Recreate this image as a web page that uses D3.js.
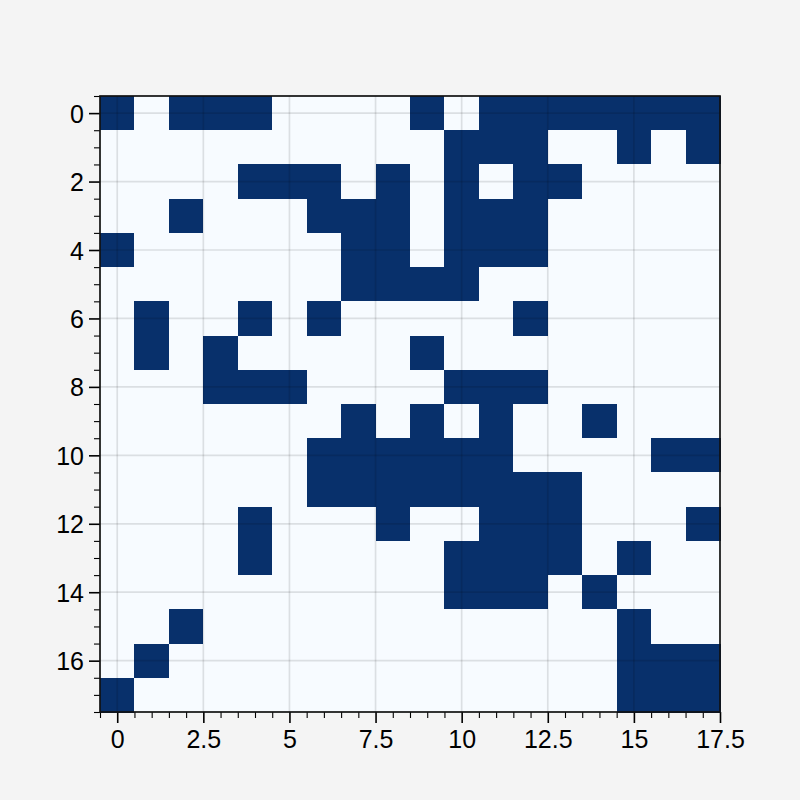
<!DOCTYPE html>
<html>
<head>
<meta charset="utf-8">
<script src="https://cdn.jsdelivr.net/npm/d3@7"></script>
<style>
  html, body { margin: 0; padding: 0; background: #f4f4f4; }
  svg { display: block; }
  text { font-family: "Liberation Sans", Arial, sans-serif; }
</style>
</head>
<body>
<svg id="chart" width="800" height="800"></svg>
<script>
// Boolean matrix, rows top to bottom (row index 0..17), columns left to right
const row00 = [1,0,1,1,1,0,0,0,0,1,0,1,1,1,1,1,1,1];
const row01 = [0,0,0,0,0,0,0,0,0,0,1,1,1,0,0,1,0,1];
const row02 = [0,0,0,0,1,1,1,0,1,0,1,0,1,1,0,0,0,0];
const row03 = [0,0,1,0,0,0,1,1,1,0,1,1,1,0,0,0,0,0];
const row04 = [1,0,0,0,0,0,0,1,1,0,1,1,1,0,0,0,0,0];
const row05 = [0,0,0,0,0,0,0,1,1,1,1,0,0,0,0,0,0,0];
const row06 = [0,1,0,0,1,0,1,0,0,0,0,0,1,0,0,0,0,0];
const row07 = [0,1,0,1,0,0,0,0,0,1,0,0,0,0,0,0,0,0];
const row08 = [0,0,0,1,1,1,0,0,0,0,1,1,1,0,0,0,0,0];
const row09 = [0,0,0,0,0,0,0,1,0,1,0,1,0,0,1,0,0,0];
const row10 = [0,0,0,0,0,0,1,1,1,1,1,1,0,0,0,0,1,1];
const row11 = [0,0,0,0,0,0,1,1,1,1,1,1,1,1,0,0,0,0];
const row12 = [0,0,0,0,1,0,0,0,1,0,0,1,1,1,0,0,0,1];
const row13 = [0,0,0,0,1,0,0,0,0,0,1,1,1,1,0,1,0,0];
const row14 = [0,0,0,0,0,0,0,0,0,0,1,1,1,0,1,0,0,0];
const row15 = [0,0,1,0,0,0,0,0,0,0,0,0,0,0,0,1,0,0];
const row16 = [0,1,0,0,0,0,0,0,0,0,0,0,0,0,0,1,1,1];
const row17 = [1,0,0,0,0,0,0,0,0,0,0,0,0,0,0,1,1,1];
const matrix = [row00,row01,row02,row03,row04,row05,row06,row07,row08,
                row09,row10,row11,row12,row13,row14,row15,row16,row17];

const xTickValues = [0, 2.5, 5, 7.5, 10, 12.5, 15, 17.5];
const xTickLabels = ["0", "2.5", "5", "7.5", "10", "12.5", "15", "17.5"];
const yTickValues = [0, 2, 4, 6, 8, 10, 12, 14, 16];
const yTickLabels = ["0", "2", "4", "6", "8", "10", "12", "14", "16"];

const colorLow = "#f7fbff";
const colorHigh = "#08306b";

(function () {
const pLeft = 100, pRight = 720, pTop = 96, pBottom = 712;
const nR = matrix.length, nC = matrix[0].length;

const svg = d3.select("#chart");
const x = d3.scaleLinear().domain([-0.5, nC - 0.5]).range([pLeft, pRight]);
const y = d3.scaleLinear().domain([-0.5, nR - 0.5]).range([pTop, pBottom]);
const color = d3.scaleOrdinal().domain([0, 1]).range([colorLow, colorHigh]);

// cells
const cells = [];
matrix.forEach((row, i) => row.forEach((v, j) => cells.push({i, j, v})));
svg.append("g").attr("shape-rendering", "crispEdges")
  .selectAll("rect").data(cells).join("rect")
  .attr("x", d => x(d.j - 0.5))
  .attr("y", d => y(d.i - 0.5))
  .attr("width", d => x(d.j + 0.5) - x(d.j - 0.5) + 0.5)
  .attr("height", d => y(d.i + 0.5) - y(d.i - 0.5) + 0.5)
  .attr("fill", d => color(d.v));

// gridlines
const grid = svg.append("g").attr("stroke", "rgba(0,0,0,0.11)").attr("stroke-width", 1.7);
xTickValues.filter(v => v < nC - 0.5).forEach(v => {
  grid.append("line").attr("x1", x(v)).attr("x2", x(v)).attr("y1", pTop).attr("y2", pBottom);
});
yTickValues.forEach(v => {
  grid.append("line").attr("x1", pLeft).attr("x2", pRight).attr("y1", y(v)).attr("y2", y(v));
});

// minor ticks
const xMinor = d3.range(-0.5, nC - 0.5 + 0.01, 0.5).filter(v => !xTickValues.includes(v));
const yMinor = d3.range(-0.5, nR - 0.5 + 0.01, 0.5).filter(v => !yTickValues.includes(v));

const fs = 25;
const xMinorAxis = d3.axisBottom(x).tickValues(xMinor).tickSize(6).tickFormat("");
const yMinorAxis = d3.axisLeft(y).tickValues(yMinor).tickSize(6).tickFormat("");
const xAxis = d3.axisBottom(x).tickValues(xTickValues).tickSize(11).tickPadding(5)
  .tickFormat((d, i) => xTickLabels[i]);
const yAxis = d3.axisLeft(y).tickValues(yTickValues).tickSize(11).tickPadding(5)
  .tickFormat((d, i) => yTickLabels[i]);

function style(g, w) {
  g.select(".domain").remove();
  g.selectAll(".tick line").attr("stroke", "#000").attr("stroke-width", w);
  g.selectAll("text").attr("font-size", fs).attr("fill", "#000")
    .attr("font-family", "'Liberation Sans', Arial, sans-serif");
}
svg.append("g").attr("transform", `translate(0,${pBottom})`).call(xMinorAxis).call(g => style(g, 1.1));
svg.append("g").attr("transform", `translate(${pLeft},0)`).call(yMinorAxis).call(g => style(g, 1.1));
svg.append("g").attr("transform", `translate(0,${pBottom})`).call(xAxis).call(g => style(g, 1.6))
  .selectAll("text").attr("dy", null).attr("y", 36);
svg.append("g").attr("transform", `translate(${pLeft},0)`).call(yAxis).call(g => style(g, 1.6))
  .selectAll("text").attr("dy", "0.36em").attr("x", -16);

// frame
svg.append("rect").attr("x", pLeft).attr("y", pTop)
  .attr("width", pRight - pLeft).attr("height", pBottom - pTop)
  .attr("fill", "none").attr("stroke", "#111").attr("stroke-width", 1.7);
})();
</script>
</body>
</html>
